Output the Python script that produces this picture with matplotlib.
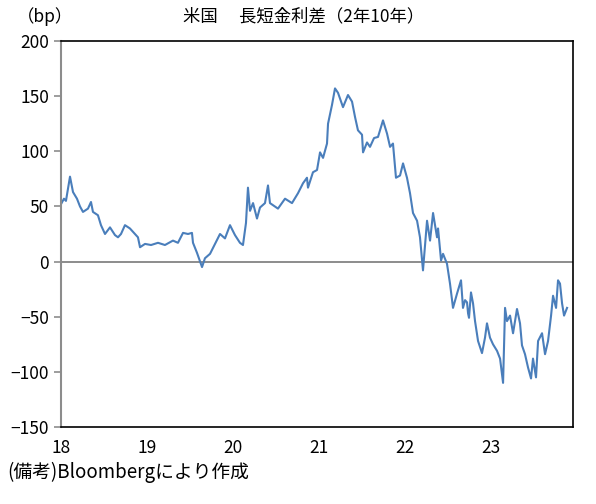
import matplotlib
matplotlib.use('Agg')
import matplotlib.pyplot as plt

plt.rcParams['font.family'] = ['Noto Sans CJK JP', 'DejaVu Sans']

# US 2y-10y spread
# time as years since start of 2018, spread in bp
t = [
    0.000, 0.035, 0.058, 0.105, 0.140, 0.186, 0.221, 0.256, 0.314, 0.349,
    0.372, 0.430, 0.465, 0.512, 0.570, 0.628, 0.663, 0.698, 0.744, 0.802,
    0.860, 0.895, 0.919, 0.977, 1.047, 1.128, 1.209,
    1.302, 1.360, 1.419, 1.477, 1.523, 1.535, 1.581, 1.640, 1.674, 1.733,
    1.791, 1.849, 1.907, 1.965, 2.023, 2.081, 2.116, 2.151, 2.174, 2.198,
    2.233, 2.279, 2.314, 2.372, 2.407,
    2.430, 2.523, 2.605, 2.686, 2.756, 2.814, 2.860, 2.872, 2.930, 2.977,
    3.012, 3.047, 3.093, 3.105, 3.151, 3.186, 3.221, 3.279, 3.337, 3.384,
    3.419, 3.453, 3.500, 3.512, 3.558, 3.593, 3.640, 3.686, 3.744, 3.791,
    3.826, 3.860, 3.895, 3.942, 3.977, 4.023, 4.058, 4.093, 4.140, 4.174,
    4.209, 4.256, 4.291, 4.326, 4.372, 4.384, 4.419, 4.442, 4.488, 4.523,
    4.558, 4.605, 4.651, 4.674, 4.698, 4.721, 4.733, 4.744, 4.767, 4.791,
    4.814, 4.849, 4.895, 4.930, 4.953, 4.988, 5.023, 5.070, 5.105, 5.140,
    5.163, 5.186, 5.221, 5.256, 5.302, 5.337, 5.360, 5.395, 5.430, 5.465,
    5.488, 5.523, 5.547, 5.593, 5.628, 5.663, 5.698, 5.721, 5.756, 5.779,
    5.802, 5.826, 5.849, 5.884,
]
spread = [
    52, 57, 55, 77, 63, 57, 50, 45, 48, 54,
    45, 42, 33, 25, 31, 24, 22, 25, 33, 30,
    25, 22, 13, 16, 15, 17, 15,
    19, 17, 26, 25, 26, 17, 8, -5, 3, 7,
    16, 25, 21, 33, 24, 17, 15, 35, 67, 46,
    53, 39, 49, 53, 69,
    53, 48, 57, 53, 62, 71, 76, 67, 81, 83,
    99, 94, 107, 125, 142, 157, 153, 140, 151, 145,
    131, 119, 115, 99, 108, 104, 112, 113, 128, 116,
    104, 107, 76, 78, 89, 76, 62, 44, 37, 22,
    -8, 37, 19, 44, 22, 30, 1, 7, -2, -20,
    -42, -29, -17, -42, -35, -37, -47, -51, -28, -38,
    -54, -72, -83, -69, -56, -69, -75, -81, -88, -110,
    -42, -54, -49, -65, -43, -56, -76, -84, -96, -106,
    -88, -105, -72, -65, -84, -72, -49, -31, -42, -17,
    -20, -38, -49, -42,
]

x_ticks = [0, 1, 2, 3, 4, 5]
x_labels = ['18', '19', '20', '21', '22', '23']
y_ticks = [-150, -100, -50, 0, 50, 100, 150, 200]

fig = plt.figure(figsize=(5.96, 5.04), dpi=100)
ax = fig.add_axes([0.1023, 0.1528, 0.8591, 0.7659])

ax.axhline(0, color='#8c8c8c', lw=1.4, zorder=1)
ax.plot(t, spread, color='#4a7ebb', lw=1.5, zorder=2)

ax.set_xlim(0, 5.953)
ax.set_ylim(-150, 200)
ax.set_xticks(x_ticks)
ax.set_xticklabels(x_labels)
ax.set_yticks(y_ticks)
ax.tick_params(axis='x', length=0, pad=9, labelsize=12.5)
ax.tick_params(axis='y', length=5, color='#8c8c8c', width=1.2, labelsize=12.5)

for side in ['top', 'right', 'bottom']:
    ax.spines[side].set_color('black')
    ax.spines[side].set_linewidth(1.2)
ax.spines['left'].set_color('#8c8c8c')
ax.spines['left'].set_linewidth(1.5)

fig.text(0.075, 0.968, '（bp）', fontsize=12.5, ha='center', va='center')
fig.text(0.51, 0.968, '米国　 長短金利差（2年10年）', fontsize=12.5, ha='center', va='center')
fig.text(0.013, 0.062, '(備考)Bloombergにより作成', fontsize=13.5, ha='left', va='center')

fig.savefig('out.png', dpi=100)
